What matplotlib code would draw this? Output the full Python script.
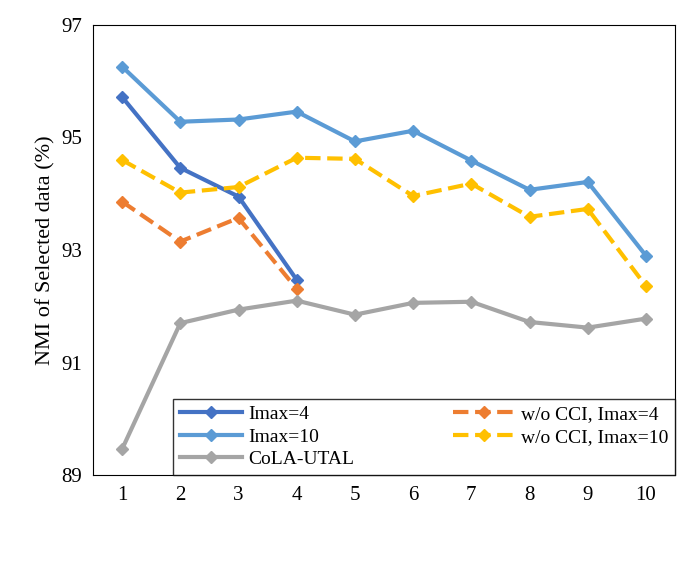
import matplotlib
matplotlib.use("Agg")
import matplotlib.pyplot as plt

plt.rcParams["font.family"] = "Liberation Serif"

# === DATA ===
iters = [1, 2, 3, 4, 5, 6, 7, 8, 9, 10]
imax4 = [95.72, 94.46, 93.95, 92.47]
wo_imax4 = [93.86, 93.15, 93.57, 92.31]
imax10 = [96.26, 95.28, 95.32, 95.46, 94.93, 95.12, 94.59, 94.07, 94.21, 92.90]
wo_imax10 = [94.60, 94.02, 94.12, 94.64, 94.62, 93.96, 94.18, 93.59, 93.73, 92.36]
cola = [89.46, 91.70, 91.94, 92.10, 91.85, 92.06, 92.08, 91.72, 91.62, 91.78]

fig = plt.figure(figsize=(6.91, 5.69), dpi=100)
ax = fig.add_axes([93/691, 1-475/569, 582/691, 450/569])

h1, = ax.plot(iters[:4], imax4, color="#4472C4", lw=3, marker="D", ms=6, label="Imax=4")
h2, = ax.plot(iters[:4], wo_imax4, color="#ED7D31", lw=3, ls="--", marker="D", ms=6, label="w/o CCI, Imax=4")
h3, = ax.plot(iters, imax10, color="#5B9BD5", lw=3, marker="D", ms=6, label="Imax=10")
h4, = ax.plot(iters, wo_imax10, color="#FFC000", lw=3, ls="--", marker="D", ms=6, label="w/o CCI, Imax=10")
h5, = ax.plot(iters, cola, color="#A5A5A5", lw=3, marker="D", ms=6, label="CoLA-UTAL")

ax.set_xlim(0.5, 10.5)
ax.set_ylim(89, 97)
ax.set_xticks(iters)
ax.set_yticks([89, 91, 93, 95, 97])
ax.tick_params(labelsize=15, length=0, pad=8)
ax.set_ylabel("NMI of Selected data (%)", fontsize=16)

# column-wise fill order so rows read left-to-right like the original
handles = [h1, h3, h5, h2, h4]
leg = ax.legend(handles, [h.get_label() for h in handles], ncol=2,
                loc="lower left", bbox_to_anchor=(80/582, 0, 502/582, 0.2),
                mode="expand", fontsize=14, frameon=True, fancybox=False,
                edgecolor="black", borderaxespad=0, handlelength=3.2,
                handletextpad=0.3, labelspacing=0.25, borderpad=0.35)
leg.get_frame().set_linewidth(1)

fig.savefig("out.png", dpi=100)
